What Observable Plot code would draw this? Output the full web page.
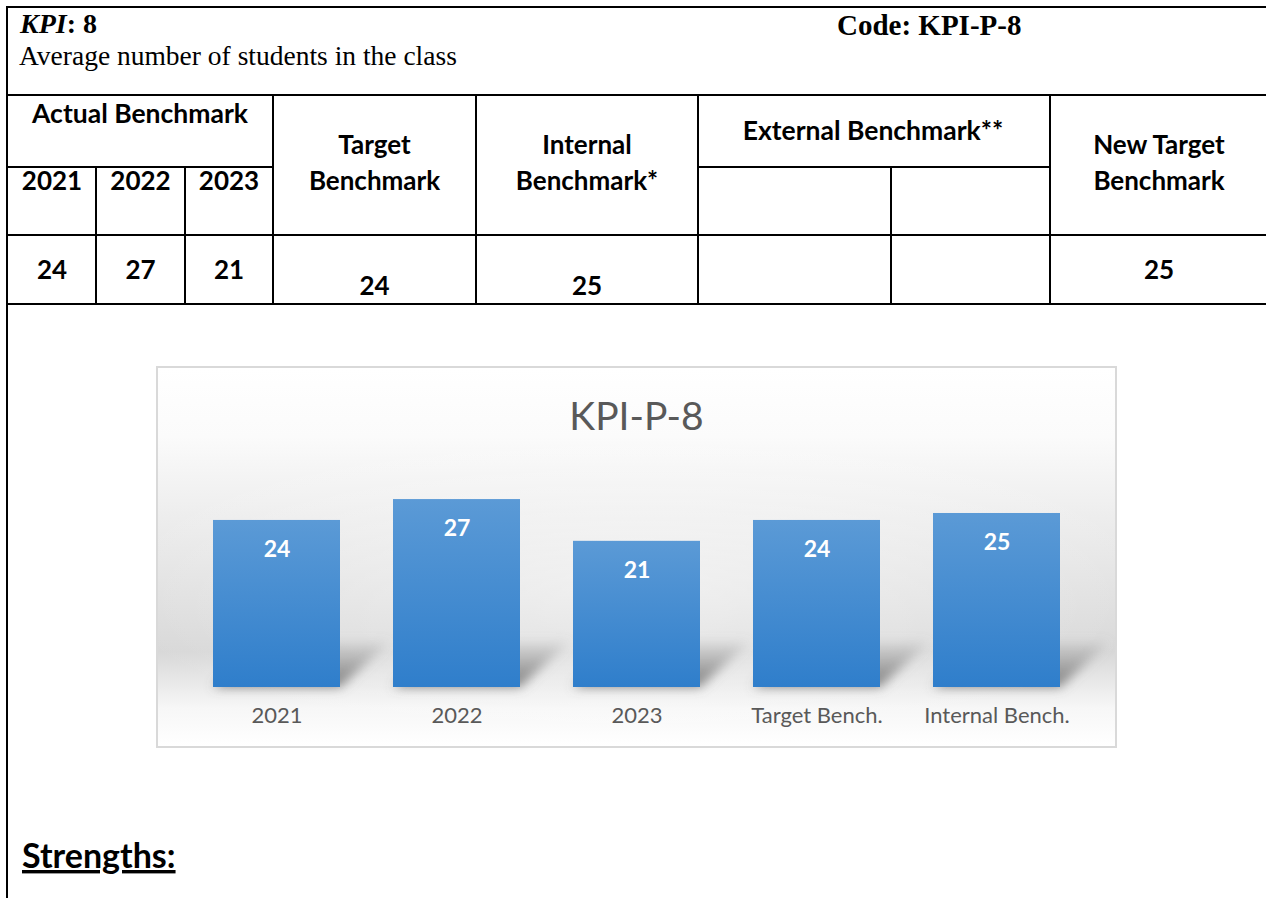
<!DOCTYPE html>
<html>
<head>
<meta charset="utf-8">
<script src="https://cdn.jsdelivr.net/npm/d3@7"></script>
<script src="https://cdn.jsdelivr.net/npm/@observablehq/plot@0.6"></script>
<style>
  html, body { margin: 0; padding: 0; background: #fff; }
  body { width: 1266px; height: 898px; position: relative; overflow: hidden; }
  #page { position: absolute; left: 0; top: 0; }
  #chartBox {
    position: absolute; left: 156px; top: 366px; width: 961px; height: 382px;
    box-sizing: border-box; border: 2px solid #d9d9d9;
    background:
      radial-gradient(ellipse 55% 45% at 50% 58%, rgba(255,255,255,0.5), rgba(255,255,255,0) 100%),
      linear-gradient(to bottom, #ffffff 0%, #fbfbfb 18%, #eeeeee 38%, #e2e2e2 58%, #d8d8d8 75%, #e6e6e6 82%, #f7f7f7 90%, #ffffff 100%);
  }
  #chartTitle {
    position: absolute; left: 156px; top: 390px; width: 961px; text-align: center;
    font-family: Lato, sans-serif; font-size: 39px; color: #595959; line-height: 50px;
  }
  #plotHolder { position: absolute; left: 156px; top: 466px; }
</style>
</head>
<body>
<svg id="page" width="1266" height="898"></svg>
<div id="chartBox"></div>
<div id="chartTitle"></div>
<div id="plotHolder"></div>
<script>
// ---------- data ----------
const kpiNumber = "8";
const kpiCode = "KPI-P-8";
const kpiDescription = "Average number of students in the class";
const actualYears = ["2021", "2022", "2023"];
const actualValues = [24, 27, 21];
const targetBenchmark = 24;
const internalBenchmark = 25;
const newTargetBenchmark = 25;
const categories = ["2021", "2022", "2023", "Target Bench.", "Internal Bench."];
const values = [24, 27, 21, 24, 25];
const sectionHeading = "Strengths:";

// ---------- table (document part) ----------
const svg = d3.select("#page");
const times = "'Liberation Serif', 'Times New Roman', serif";
const sans = "Lato, 'Open Sans', sans-serif";

const hLines = [[7, 7, 1266], [95, 7, 1266], [167, 7, 273], [167, 698, 1050], [235, 7, 1266], [304, 7, 1266]];
const vLines = [[7, 7, 898], [96, 167, 304], [185, 167, 304], [273, 95, 304], [476, 95, 304], [698, 95, 304], [891, 167, 304], [1050, 95, 304]];
hLines.forEach(([y, x1, x2]) => svg.append("line").attr("x1", x1 - 1).attr("x2", x2).attr("y1", y).attr("y2", y).attr("stroke", "#000").attr("stroke-width", 2));
vLines.forEach(([x, y1, y2]) => svg.append("line").attr("x1", x).attr("x2", x).attr("y1", y1 - 1).attr("y2", y2 + 1).attr("stroke", "#000").attr("stroke-width", 2));

// KPI line
const k = svg.append("text").attr("x", 20).attr("y", 33).attr("font-family", times).attr("font-size", 28).attr("font-weight", "bold");
k.append("tspan").attr("font-style", "italic").text("KPI");
k.append("tspan").text(": " + kpiNumber);
svg.append("text").attr("x", 19).attr("y", 65).attr("font-family", times).attr("font-size", 27.5).text(kpiDescription);
svg.append("text").attr("x", 837).attr("y", 35).attr("font-family", times).attr("font-size", 29).attr("font-weight", "bold").text("Code: " + kpiCode);

function cell(txt, x, y, size = 26) {
  svg.append("text").attr("x", x).attr("y", y).attr("text-anchor", "middle")
    .attr("font-family", sans).attr("font-weight", "bold").attr("font-size", size).attr("fill", "#000").text(txt);
}
cell("Actual Benchmark", 140, 123, 26.5);
const yearX = [52, 140.5, 229];
actualYears.forEach((yr, i) => cell(yr, yearX[i], 190));
cell("Target", 374.5, 154); cell("Benchmark", 374.5, 190);
cell("Internal", 587, 154); cell("Benchmark*", 587, 190);
cell("External Benchmark**", 873, 140, 26.5);
cell("New Target", 1159, 154); cell("Benchmark", 1159, 190);
actualValues.forEach((v, i) => cell(String(v), yearX[i], 279));
cell(String(targetBenchmark), 374.5, 295);
cell(String(internalBenchmark), 587, 295);
cell(String(newTargetBenchmark), 1159, 279);

svg.append("text").attr("x", 22).attr("y", 868).attr("font-family", sans).attr("font-weight", "bold")
  .attr("font-size", 34).style("text-decoration", "underline").text(sectionHeading);

// ---------- chart ----------
document.getElementById("chartTitle").textContent = kpiCode;

const rows = categories.map((c, i) => ({category: c, value: values[i]}));
const shadowDepth = 6.5;

const chart = Plot.plot({
  width: 961,
  height: 282,
  marginTop: 0,
  marginBottom: 61,
  marginLeft: 3.3,
  marginRight: 3.7,
  style: {fontFamily: "Lato, sans-serif", background: "transparent", overflow: "visible"},
  x: {domain: categories, padding: 0.2926, label: null},
  y: {domain: [0, 31.75], axis: null},
  marks: [
    Plot.barY(rows, {x: "category", y1: 0, y2: shadowDepth, fill: "url(#shadowGrad)"}),
    Plot.barY(rows, {x: "category", y: "value", fill: "url(#barGrad)"}),
    Plot.text(rows, {x: "category", y: "value", text: d => String(d.value), dy: 29, fill: "white", fontWeight: "bold", fontSize: 23}),
    Plot.axisX({tickSize: 0, tickPadding: 20, fontSize: 22, fill: "#595959", label: null})
  ]
});

const cs = d3.select(chart);
const defs = cs.insert("defs", ":first-child");
const bg = defs.append("linearGradient").attr("id", "barGrad").attr("x1", 0).attr("y1", 0).attr("x2", 0).attr("y2", 1);
bg.append("stop").attr("offset", "0%").attr("stop-color", "#5b9ad6");
bg.append("stop").attr("offset", "100%").attr("stop-color", "#2f7ecb");
const sg = defs.append("linearGradient").attr("id", "shadowGrad").attr("x1", 0).attr("y1", 0).attr("x2", 0).attr("y2", 1);
sg.append("stop").attr("offset", "0%").attr("stop-color", "#8a8a8a").attr("stop-opacity", 0.1);
sg.append("stop").attr("offset", "55%").attr("stop-color", "#7a7a7a").attr("stop-opacity", 0.6);
sg.append("stop").attr("offset", "100%").attr("stop-color", "#6a6a6a").attr("stop-opacity", 0.85);
const fl = defs.append("filter").attr("id", "shadowBlur").attr("x", "-30%").attr("y", "-50%").attr("width", "160%").attr("height", "200%");
fl.append("feGaussianBlur").attr("stdDeviation", 5.5);

const barGroups = cs.selectAll('g[aria-label="bar"]').nodes();
if (barGroups.length >= 2) {
  const shadowG = d3.select(barGroups[0]);
  shadowG.attr("filter", "url(#shadowBlur)");
  shadowG.selectAll("rect").each(function() {
    const r = d3.select(this);
    const yb = +r.attr("y") + +r.attr("height");
    r.attr("transform", `translate(0,${yb}) skewX(-48) translate(0,${-yb})`);
  });
}

document.getElementById("plotHolder").appendChild(chart);
</script>
</body>
</html>
